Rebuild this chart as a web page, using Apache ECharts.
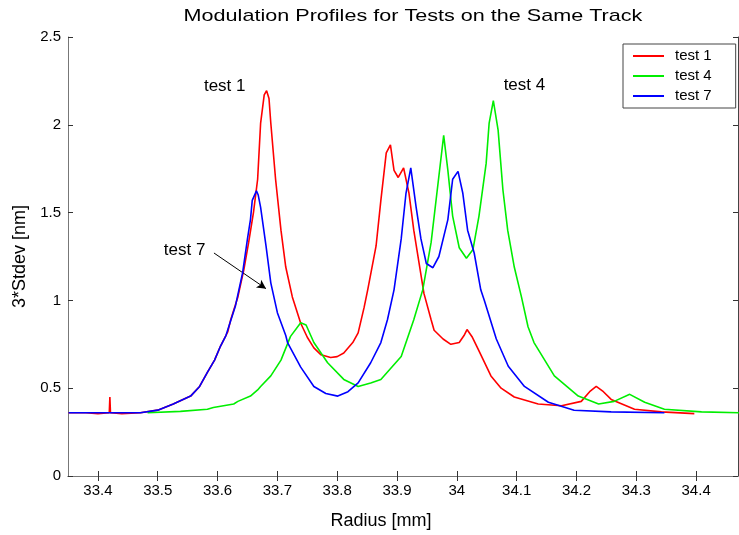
<!DOCTYPE html>
<html><head><meta charset="utf-8">
<script src="https://cdn.jsdelivr.net/npm/echarts@6/dist/echarts.min.js"></script>
<style>html,body{margin:0;padding:0;background:#fff}#c{width:739px;height:535px}</style>
</head><body><div id="c"></div>
<script>
var xTicks = [33.4, 33.5, 33.6, 33.7, 33.8, 33.9, 34, 34.1, 34.2, 34.3, 34.4];
var yTicks = [0, 0.5, 1, 1.5, 2, 2.5];
var seriesNames = ['test 1', 'test 4', 'test 7'];

var test1X = [33.351,33.380,33.400,33.419,33.420,33.421,33.440,33.471,33.500,33.526,33.555,33.570,33.583,33.595,33.605,33.617,33.622,33.634,33.644,33.652,33.660,33.667,33.672,33.678,33.682,33.686,33.689,33.697,33.706,33.714,33.725,33.739,33.750,33.761,33.773,33.789,33.800,33.811,33.826,33.835,33.845,33.851,33.865,33.873,33.882,33.889,33.895,33.902,33.911,33.920,33.928,33.937,33.945,33.957,33.962,33.977,33.990,34.004,34.012,34.017,34.026,34.036,34.057,34.074,34.096,34.136,34.175,34.208,34.222,34.233,34.245,34.258,34.297,34.342,34.397];
var test1Y = [0.36,0.36,0.355,0.36,0.45,0.36,0.355,0.36,0.375,0.41,0.455,0.51,0.59,0.66,0.74,0.82,0.89,1.02,1.175,1.33,1.50,1.69,2.01,2.17,2.194,2.15,2.01,1.69,1.40,1.19,1.02,0.87,0.79,0.73,0.69,0.675,0.68,0.70,0.76,0.815,0.96,1.06,1.31,1.57,1.84,1.886,1.74,1.70,1.755,1.61,1.40,1.21,1.04,0.89,0.83,0.78,0.75,0.76,0.80,0.834,0.79,0.72,0.57,0.50,0.45,0.41,0.40,0.425,0.48,0.51,0.48,0.436,0.38,0.365,0.355];

var test4X = [33.483,33.538,33.583,33.593,33.627,33.634,33.655,33.667,33.672,33.689,33.706,33.722,33.739,33.748,33.761,33.784,33.811,33.835,33.856,33.873,33.907,33.928,33.943,33.957,33.968,33.978,33.985,33.993,34.004,34.016,34.027,34.037,34.049,34.054,34.061,34.069,34.077,34.085,34.096,34.108,34.119,34.129,34.163,34.203,34.237,34.263,34.289,34.314,34.347,34.409,34.473];
var test4Y = [0.36,0.368,0.38,0.39,0.41,0.425,0.455,0.49,0.51,0.57,0.66,0.795,0.873,0.86,0.76,0.645,0.55,0.51,0.53,0.55,0.68,0.89,1.06,1.33,1.65,1.94,1.74,1.48,1.30,1.24,1.29,1.48,1.78,2.01,2.137,1.97,1.63,1.40,1.19,1.02,0.85,0.76,0.57,0.455,0.41,0.425,0.465,0.42,0.38,0.365,0.36];

var test7X = [33.351,33.400,33.471,33.500,33.526,33.555,33.570,33.583,33.595,33.605,33.614,33.630,33.642,33.650,33.655,33.658,33.665,33.668,33.672,33.681,33.689,33.700,33.714,33.717,33.739,33.761,33.781,33.801,33.818,33.835,33.856,33.873,33.884,33.895,33.907,33.915,33.923,33.932,33.940,33.949,33.960,33.970,33.985,33.993,34.002,34.010,34.018,34.029,34.040,34.046,34.066,34.086,34.113,34.153,34.196,34.258,34.347];
var test7Y = [0.36,0.36,0.36,0.375,0.41,0.455,0.51,0.59,0.66,0.74,0.80,0.97,1.16,1.35,1.46,1.57,1.624,1.60,1.53,1.31,1.10,0.93,0.80,0.76,0.62,0.51,0.47,0.455,0.48,0.53,0.645,0.76,0.89,1.06,1.35,1.61,1.755,1.53,1.35,1.21,1.186,1.25,1.46,1.69,1.735,1.61,1.40,1.27,1.06,1.00,0.78,0.625,0.51,0.42,0.374,0.365,0.36];

var annotations = [
  {text: 'test 1', x: 33.612, y: 2.22},
  {text: 'test 4', x: 34.113, y: 2.227},
  {text: 'test 7', x: 33.545, y: 1.288}
];
var arrowFrom = [33.594, 1.27];
var arrowTo = [33.681, 1.067];

function pairs(xs, ys) { return xs.map(function (x, i) { return [x, ys[i]]; }); }

var FONT = 'Liberation Sans, Arial, sans-serif';
var chart = echarts.init(document.getElementById('c'), null, {renderer: 'canvas'});
var axisCommon = {
  type: 'value', min: 33.35, max: 34.47,
  axisLine: {show: true, lineStyle: {color: '#777', width: 1}},
  splitLine: {show: false}
};
var lineCommon = {type: 'line', showSymbol: false, symbol: 'none', smooth: false};
var option = {
  animation: false,
  backgroundColor: '#fff',
  grid: {left: 68, right: 1, top: 37, bottom: 58, show: false},
  graphic: [
    {type: 'text', x: 413, y: 16, originX: 0, originY: 0, scaleX: 1.27,
      style: {text: 'Modulation Profiles for Tests on the Same Track', font: '17px ' + FONT, fill: '#000', textAlign: 'center', textVerticalAlign: 'middle'}}
  ],
  legend: {
    data: seriesNames, orient: 'vertical', left: 623, top: 44,
    padding: [4, 24, 4, 10], itemGap: 4, itemWidth: 31, itemHeight: 2, icon: 'rect',
    backgroundColor: '#fff', borderColor: '#444', borderWidth: 1,
    textStyle: {fontFamily: FONT, fontSize: 15, color: '#000', padding: [0, 0, 0, 6], lineHeight: 16}
  },
  xAxis: [
    Object.assign({}, axisCommon, {
      position: 'bottom',
      axisTick: {show: true, inside: true, length: 5, customValues: xTicks, lineStyle: {color: '#333'}},
      axisLabel: {show: true, customValues: xTicks, fontFamily: FONT, fontSize: 15, color: '#000', margin: 7},
      name: 'Radius [mm]', nameLocation: 'middle', nameGap: 36,
      nameTextStyle: {fontFamily: FONT, fontSize: 18, color: '#000', padding: [0, 44, 0, 0]}
    }),
    Object.assign({}, axisCommon, {
      position: 'top',
      axisTick: {show: true, inside: true, length: 5, customValues: xTicks, lineStyle: {color: '#333'}},
      axisLabel: {show: false}
    })
  ],
  yAxis: [
    {type: 'value', min: 0, max: 2.5, interval: 0.5, position: 'left',
      axisLine: {show: true, lineStyle: {color: '#777'}},
      axisTick: {show: true, inside: true, length: 5, lineStyle: {color: '#333'}},
      axisLabel: {fontFamily: FONT, fontSize: 15, color: '#000', margin: 7},
      splitLine: {show: false},
      name: '3*Stdev [nm]', nameLocation: 'middle', nameGap: 37, nameRotate: 90,
      nameTextStyle: {fontFamily: FONT, fontSize: 18, color: '#000'}
    },
    {type: 'value', min: 0, max: 2.5, interval: 0.5, position: 'right',
      axisLine: {show: true, lineStyle: {color: '#444'}},
      axisTick: {show: true, inside: true, length: 5, lineStyle: {color: '#333'}},
      axisLabel: {show: false}, splitLine: {show: false}
    }
  ],
  series: [
    Object.assign({}, lineCommon, {name: 'test 1', data: pairs(test1X, test1Y),
      lineStyle: {color: '#ff0000', width: 1.6}, itemStyle: {color: '#ff0000'}, z: 3}),
    Object.assign({}, lineCommon, {name: 'test 4', data: pairs(test4X, test4Y),
      lineStyle: {color: '#00ee00', width: 1.6}, itemStyle: {color: '#00ee00'}, z: 4}),
    Object.assign({}, lineCommon, {name: 'test 7', data: pairs(test7X, test7Y),
      lineStyle: {color: '#0000ff', width: 1.6}, itemStyle: {color: '#0000ff'}, z: 5,
      markPoint: {
        symbol: 'circle', symbolSize: 1, itemStyle: {color: 'rgba(0,0,0,0)'},
        label: {show: true, position: 'inside', color: '#000', fontFamily: FONT, fontSize: 17,
          formatter: function (p) { return p.name; }},
        data: annotations.map(function (a) { return {name: a.text, coord: [a.x, a.y]}; })
      },
      markLine: {
        silent: true, symbol: ['none', 'arrow'], symbolSize: [7, 9],
        lineStyle: {color: '#000', width: 1, type: 'solid'}, label: {show: false},
        data: [[{coord: arrowFrom}, {coord: arrowTo}]]
      }
    })
  ]
};
chart.setOption(option);
</script>
</body></html>
